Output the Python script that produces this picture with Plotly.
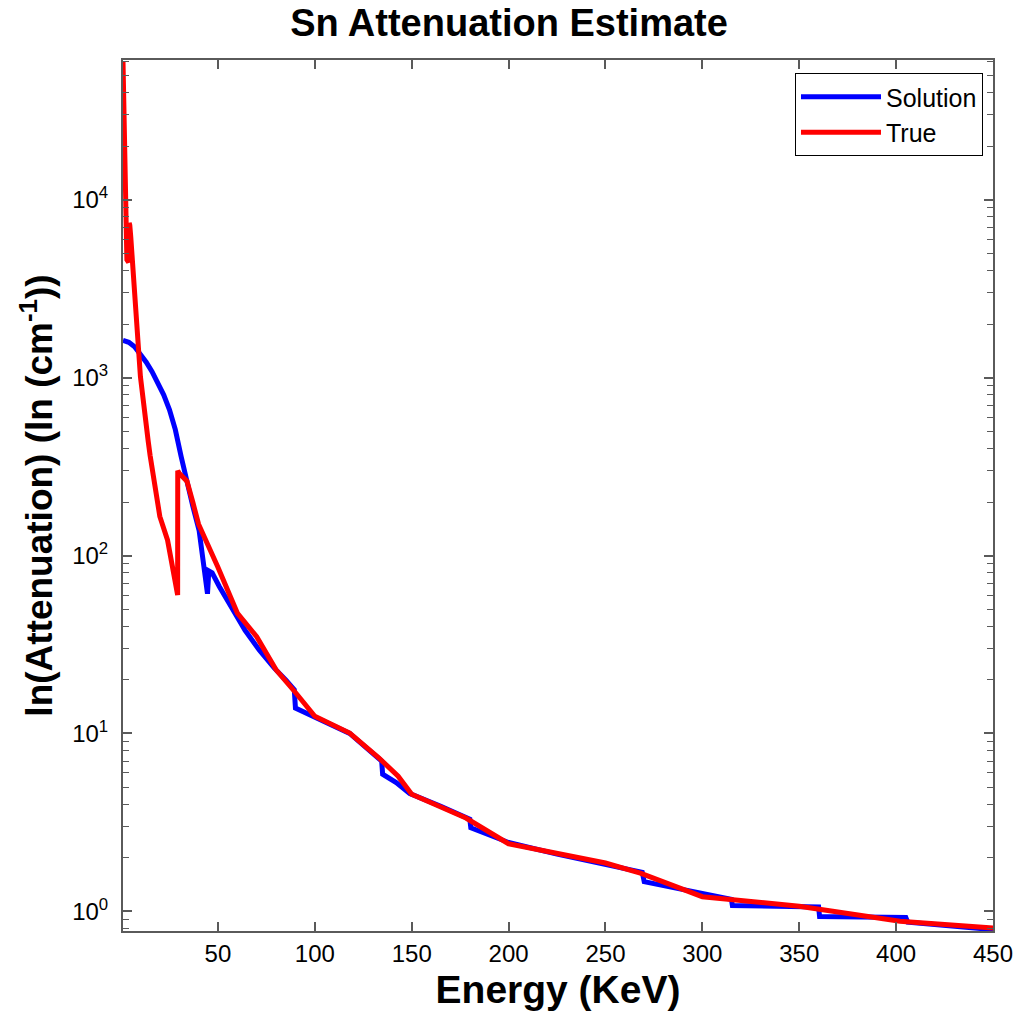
import math
import plotly.graph_objects as go

# ---- data ----
true_energy = [1, 2, 3, 3.9, 3.95, 4.15, 4.2, 4.45, 4.5, 5, 6, 7.4, 8.2, 10, 14, 15, 20, 24,
               29.2, 29.25, 30, 34, 37, 40, 50, 60, 70, 80, 90, 100, 118, 133, 143, 150,
               178, 185, 200, 250, 268, 300, 350, 402, 450]
true_atten = [60000, 15000, 4600, 4450, 7300, 6600, 7400, 6800, 7200, 6200, 4300, 2730, 2100, 1010, 440, 365, 166, 122,
              60, 300, 290, 262, 200, 150, 86, 47.5, 35, 22.8, 17, 12.5, 10.05, 7.3, 5.75, 4.55,
              3.35, 3.0, 2.4, 1.87, 1.64, 1.21, 1.07, 0.88, 0.807]

sol_energy = [1, 4, 7, 10, 13, 16, 19, 22, 25, 28, 31, 34, 37, 40.3, 42.9, 44.6, 45.3, 47,
              50.7, 57.5, 64, 71.3, 79.1, 85, 89.4, 90, 95, 99.7, 118, 134.5, 135, 142, 149,
              165, 180, 180.5, 190, 200, 225, 250, 269, 270, 285, 300, 315, 315.5, 340, 360,
              360.5, 380, 405, 406, 430, 450]
sol_atten = [1620, 1580, 1490, 1360, 1220, 1080, 940, 800, 660, 510, 360, 255, 190, 138, 83, 61, 82, 80,
             67, 49.5, 38, 29.5, 23.3, 20, 17.6, 13.9, 13.1, 12.45, 10, 7.0, 5.9, 5.3, 4.6,
             3.9, 3.3, 2.95, 2.7, 2.44, 2.1, 1.84, 1.66, 1.47, 1.36, 1.25, 1.17, 1.08, 1.07, 1.06,
             0.935, 0.93, 0.925, 0.87, 0.83, 0.79]

x_ticks = [50, 100, 150, 200, 250, 300, 350, 400, 450]
y_ticks = [1, 10, 100, 1000, 10000]
y_ticktext = ["10<sup>0</sup>", "10<sup>1</sup>", "10<sup>2</sup>", "10<sup>3</sup>", "10<sup>4</sup>"]
y_minor = [m * 10 ** d for d in range(-1, 5) for m in range(2, 10)]

FONT = "Liberation Sans, Arial, sans-serif"
AXC = "#5a5a5a"

fig = go.Figure()
fig.add_trace(go.Scatter(x=sol_energy, y=sol_atten, mode="lines", name="Solution",
                         line=dict(color="#0000ff", width=5)))
fig.add_trace(go.Scatter(x=true_energy, y=true_atten, mode="lines", name="True",
                         line=dict(color="#ff0000", width=5)))

fig.update_layout(
    width=1018, height=1015,
    margin=dict(l=123, r=25, t=60, b=84),
    paper_bgcolor="white", plot_bgcolor="white",
    font=dict(family=FONT, size=24, color="black"),
    title=dict(text="<b>Sn Attenuation Estimate</b>", x=0.5, xref="container", xanchor="center",
               y=1 - 23 / 1015, yref="container", yanchor="middle",
               font=dict(family=FONT, size=38, color="black")),
    showlegend=True,
    legend=dict(x=0.9885, y=0.985, xanchor="right", yanchor="top",
                bgcolor="white", bordercolor="black", borderwidth=1,
                font=dict(family=FONT, size=25, color="black"),
                itemwidth=80, tracegroupgap=0),
    xaxis=dict(range=[1, 450], tickmode="array", tickvals=x_ticks, automargin=False,
               ticks="inside", ticklen=9, tickwidth=1.5, tickcolor=AXC,
               showline=True, linecolor=AXC, linewidth=2, mirror="ticks",
               showgrid=False, zeroline=False,
               tickfont=dict(family=FONT, size=24, color="black"),
               title=dict(text="<b>Energy (KeV)</b>", standoff=10,
                          font=dict(family=FONT, size=39, color="black"))),
    yaxis=dict(type="log", range=[math.log10(0.776), math.log10(61000)], automargin=False,
               tickmode="array", tickvals=y_ticks, ticktext=y_ticktext,
               ticks="inside", ticklen=9, tickwidth=1.5, tickcolor=AXC,
               minor=dict(tickmode="array", tickvals=y_minor, ticks="inside", ticklen=6,
                          tickwidth=1.2, tickcolor=AXC, showgrid=False),
               showline=True, linecolor=AXC, linewidth=2, mirror="ticks",
               showgrid=False, zeroline=False, ticklabelstandoff=8,
               tickfont=dict(family=FONT, size=24, color="black"),
               title=dict(text="<b>ln(Attenuation) (ln (cm<sup>-1</sup>))</b>", standoff=8,
                          font=dict(family=FONT, size=37, color="black"))),
)

fig.write_html("out.html")
